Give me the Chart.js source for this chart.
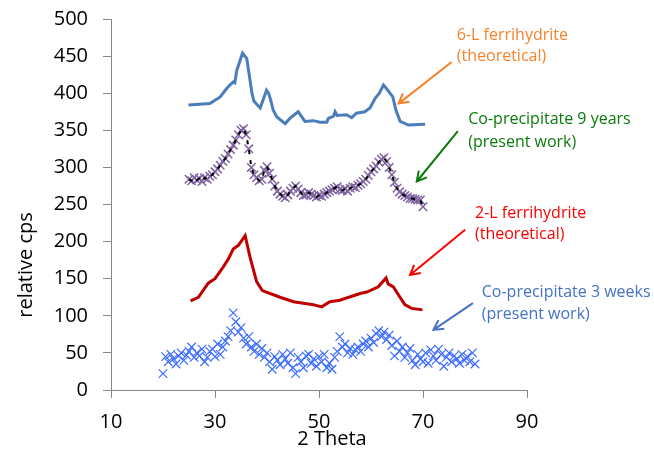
<!DOCTYPE html>
<html>
<head>
<meta charset="utf-8">
<script src="https://cdn.jsdelivr.net/npm/chart.js@4.4.0/dist/chart.umd.min.js"></script>
<style>
  html, body { margin: 0; padding: 0; background: #fff; }
  #wrap { width: 654px; height: 450px; }
</style>
</head>
<body>
<div id="wrap"><canvas id="chart" width="654" height="450"></canvas></div>
<script>
/* --- data --- */
const sixL_x = [24.9, 29.0, 31.0, 32.2, 33.0, 33.5, 33.8, 34.2, 35.3, 36.1, 36.6, 37.1, 37.5, 38.7, 39.9, 40.3, 40.7, 41.2, 41.9, 43.5, 44.4, 46.0, 47.3, 48.9, 50.2, 51.5, 51.8, 52.8, 53.1, 53.5, 55.3, 56.3, 57.2, 58.8, 59.8, 60.8, 61.6, 62.4, 63.0, 64.2, 64.8, 65.6, 67.2, 70.4];
const sixL_y = [384, 386, 395, 406, 412, 415, 414, 431, 454, 447, 424, 400, 389, 380, 404, 400, 391, 377, 368, 359, 366, 375, 362, 363, 361, 361, 366, 369, 375, 370, 371, 367, 373, 375, 380, 393, 400, 411, 406, 395, 377, 362, 357, 358];

const years9_x = [25, 25.5, 26, 26.5, 27, 27.5, 28, 28.5, 29, 29.5,
  30, 30.5, 31, 31.5, 32, 32.5, 33, 33.5, 34, 34.5,
  35, 35.5, 36, 36.5, 37, 37.5, 38, 38.5, 39, 39.5,
  40, 40.5, 41, 41.5, 42, 42.5, 43, 43.5, 44, 44.5,
  45, 45.5, 46, 46.5, 47, 47.5, 48, 48.5, 49, 49.5,
  50, 50.5, 51, 51.5, 52, 52.5, 53, 53.5, 54, 54.5,
  55, 55.5, 56, 56.5, 57, 57.5, 58, 58.5, 59, 59.5,
  60, 60.5, 61, 61.5, 62, 62.5, 63, 63.5, 64, 64.5,
  65, 65.5, 66, 66.5, 67, 67.5, 68, 68.5, 69, 69.5, 70];
const years9_y = [284, 282, 286, 283, 285, 281, 286, 284, 288, 290,
  294, 298, 303, 308, 312, 318, 324, 330, 337, 344,
  350, 352, 344, 325, 300, 290, 286, 282, 284, 296,
  301, 292, 284, 275, 268, 264, 261, 259, 263, 268,
  272, 275, 271, 266, 262, 263, 266, 264, 262, 260,
  262, 261, 264, 266, 268, 270, 272, 274, 270, 269,
  271, 268, 272, 274, 273, 276, 278, 281, 284, 289,
  294, 298, 302, 307, 311, 313, 308, 300, 290, 280,
  272, 267, 264, 262, 260, 258, 258, 257, 256, 256, 247];

const twoL_x = [25.3, 26.8, 28.7, 30.0, 31.6, 32.6, 33.5, 34.5, 35.8, 36.7, 38.0, 39.1, 42.5, 45.1, 48.9, 50.5, 52.1, 54.0, 57.9, 59.2, 61.4, 62.9, 63.3, 64.3, 65.3, 66.5, 67.8, 69.9];
const twoL_y = [120, 125, 144, 150, 166, 177, 190, 195, 208, 180, 146, 134, 125, 119, 115, 112, 119, 121, 130, 132, 139, 151, 143, 139, 128, 115, 110, 108];

const weeks3_x = [20, 20.5, 21, 21.5, 22, 22.5, 23, 23.5, 24, 24.5,
  25, 25.5, 26, 26.5, 27, 27.5, 28, 28.5, 29, 29.5,
  30, 30.5, 31, 31.5, 32, 32.5, 33, 33.5, 34, 34.5,
  35, 35.5, 36, 36.5, 37, 37.5, 38, 38.5, 39, 39.5,
  40, 40.5, 41, 41.5, 42, 42.5, 43, 43.5, 44, 44.5,
  45, 45.5, 46, 46.5, 47, 47.5, 48, 48.5, 49, 49.5,
  50, 50.5, 51, 51.5, 52, 52.5, 53, 53.5, 54, 54.5,
  55, 55.5, 56, 56.5, 57, 57.5, 58, 58.5, 59, 59.5,
  60, 60.5, 61, 61.5, 62, 62.5, 63, 63.5, 64, 64.5,
  65, 65.5, 66, 66.5, 67, 67.5, 68, 68.5, 69, 69.5,
  70, 70.5, 71, 71.5, 72, 72.5, 73, 73.5, 74, 74.5,
  75, 75.5, 76, 76.5, 77, 77.5, 78, 78.5, 79, 79.5, 80];
const weeks3_y = [22, 45, 38, 48, 42, 35, 46, 50, 40, 47,
  52, 58, 44, 50, 46, 55, 38, 44, 52, 55,
  45, 62, 48, 58, 66, 72, 80, 104, 92, 78,
  84, 70, 62, 72, 58, 52, 62, 48, 56, 44,
  50, 38, 28, 45, 40, 34, 48, 42, 36, 50,
  30, 22, 44, 38, 30, 46, 48, 36, 42, 32,
  45, 38, 48, 30, 36, 28, 44, 52, 72, 58,
  62, 50, 56, 48, 54, 58, 52, 62, 66, 58,
  70, 64, 76, 80, 72, 78, 68, 74, 60, 46,
  66, 52, 58, 44, 50, 56, 40, 34, 48, 42,
  38, 50, 36, 54, 46, 40, 55, 48, 32, 44,
  50, 38, 46, 42, 36, 48, 40, 45, 38, 50, 35];

const xTicks = [10, 30, 50, 70, 90];
const yTicks = [0, 50, 100, 150, 200, 250, 300, 350, 400, 450, 500];

// annotation text + arrow (start -> tip), in data units
const notes = [
  { lines: ["6-L ferrihydrite", "(theoretical)"], color: "#f5822a", tx: 76.5, ty: [478, 450], from: [75.5, 442], to: [65.3, 386] },
  { lines: ["Co-precipitate 9 years", "(present work)"], color: "#0a7a0a", tx: 78.7, ty: [364, 334], from: [76.7, 349], to: [68.8, 281] },
  { lines: ["2-L ferrihydrite", "(theoretical)"], color: "#ff0000", tx: 80.0, ty: [238, 209], from: [78.1, 216], to: [67.5, 155] },
  { lines: ["Co-precipitate 3 weeks", "(present work)"], color: "#4472c4", tx: 81.3, ty: [132, 102], from: [79.6, 117], to: [72.0, 81] },
];

function pts(xs, ys) {
  return xs.map((x, i) => ({ x: x, y: ys[i] }));
}

/* --- annotations & axis titles --- */
const notesPlugin = {
  id: "notes",
  afterDraw(chart) {
    const ctx = chart.ctx;
    const sx = chart.scales.x, sy = chart.scales.y;
    ctx.save();
    notes.forEach((n) => {
      ctx.fillStyle = n.color;
      ctx.strokeStyle = n.color;
      ctx.font = "16px 'Open Sans'";
      ctx.textAlign = "left";
      ctx.textBaseline = "middle";
      n.lines.forEach((t, i) => {
        ctx.fillText(t, sx.getPixelForValue(n.tx), sy.getPixelForValue(n.ty[i]));
      });
      const x1 = sx.getPixelForValue(n.from[0]), y1 = sy.getPixelForValue(n.from[1]);
      const x2 = sx.getPixelForValue(n.to[0]), y2 = sy.getPixelForValue(n.to[1]);
      const a = Math.atan2(y2 - y1, x2 - x1);
      ctx.lineWidth = 2;
      ctx.beginPath();
      ctx.moveTo(x1, y1);
      ctx.lineTo(x2, y2);
      ctx.moveTo(x2 - 11 * Math.cos(a - 0.5), y2 - 11 * Math.sin(a - 0.5));
      ctx.lineTo(x2, y2);
      ctx.lineTo(x2 - 11 * Math.cos(a + 0.5), y2 - 11 * Math.sin(a + 0.5));
      ctx.stroke();
    });

    // axis titles
    ctx.fillStyle = "#000";
    ctx.font = "20px 'Open Sans'";
    ctx.textAlign = "center";
    ctx.textBaseline = "middle";
    ctx.fillText("2 Theta", 332, 439);
    ctx.translate(26, 265);
    ctx.rotate(-Math.PI / 2);
    ctx.fillText("relative cps", 0, 0);
    ctx.restore();
  },
};

new Chart(document.getElementById("chart"), {
  type: "scatter",
  data: {
    datasets: [
      {
        label: "9 years trend",
        data: pts(years9_x, years9_y),
        showLine: true,
        borderColor: "#000",
        borderWidth: 2,
        borderDash: [4, 6],
        pointRadius: 0,
        order: 0,
      },
      {
        label: "Co-precipitate 9 years",
        data: pts(years9_x, years9_y),
        pointStyle: "crossRot",
        pointRadius: 6,
        borderColor: "#8064a2",
        borderWidth: 1.5,
        order: 1,
      },
      {
        label: "6-L ferrihydrite",
        data: pts(sixL_x, sixL_y),
        showLine: true,
        borderColor: "#4a7ebb",
        borderWidth: 3,
        pointRadius: 0,
        order: 2,
      },
      {
        label: "2-L ferrihydrite",
        data: pts(twoL_x, twoL_y),
        showLine: true,
        borderColor: "#c00000",
        borderWidth: 3,
        pointRadius: 0,
        order: 3,
      },
      {
        label: "Co-precipitate 3 weeks",
        data: pts(weeks3_x, weeks3_y),
        pointStyle: "crossRot",
        pointRadius: 6,
        borderColor: "#3b6cff",
        borderWidth: 1.2,
        order: 4,
      },
    ],
  },
  options: {
    responsive: false,
    animation: false,
    layout: { padding: { left: 0, right: 127, top: 19, bottom: 0 } },
    plugins: { legend: { display: false }, tooltip: { enabled: false } },
    scales: {
      x: {
        type: "linear",
        min: 10,
        max: 90,
        afterBuildTicks: (s) => { s.ticks = xTicks.map((v) => ({ value: v })); },
        afterFit: (s) => { s.height = 60; s.paddingLeft = 0; s.paddingRight = 0; },
        border: { color: "#868686", width: 1 },
        grid: { drawOnChartArea: false, drawTicks: true, tickLength: 8, color: "#868686" },
        ticks: { color: "#000", font: { family: "'Open Sans'", size: 20 }, padding: 12, maxRotation: 0 },
      },
      y: {
        min: 0,
        max: 500,
        afterBuildTicks: (s) => { s.ticks = yTicks.map((v) => ({ value: v })); },
        afterFit: (s) => { s.width = 111; s.paddingTop = 0; s.paddingBottom = 0; },
        border: { color: "#868686", width: 1 },
        grid: { drawOnChartArea: false, drawTicks: true, tickLength: 8, color: "#868686" },
        ticks: { color: "#000", font: { family: "'Open Sans'", size: 20 }, padding: 15 },
      },
    },
  },
  plugins: [notesPlugin],
});
</script>
</body>
</html>
